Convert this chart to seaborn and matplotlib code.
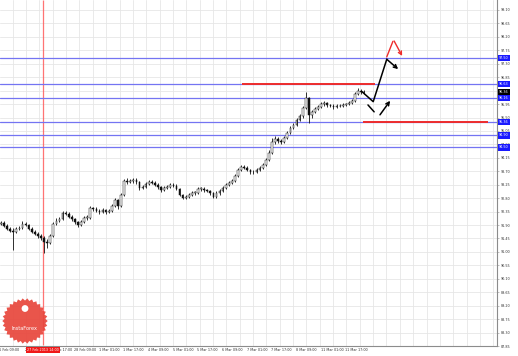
import numpy as np
import pandas as pd
import matplotlib
matplotlib.use("Agg")
import matplotlib.pyplot as plt
import matplotlib.transforms as mtransforms
from matplotlib.patches import Polygon, Circle
import seaborn as sns

# 2-hour candles, 26 Feb - 11 Mar (closes, highs, lows); open = previous close
closes = [91.98, 91.88, 91.78, 91.71, 91.68, 91.78, 91.81, 91.95, 91.91, 91.78,
          91.68, 91.61, 91.54, 91.48, 91.34, 91.31, 91.54, 91.95, 92.05, 92.11,
          92.31, 92.28, 92.18, 92.11, 92.01, 91.91, 92.01, 92.15, 92.15, 92.48,
          92.45, 92.38, 92.35, 92.41, 92.35, 92.38, 92.55, 92.75, 92.55, 92.91,
          93.38, 93.35, 93.38, 93.42, 93.35, 93.15, 93.18, 93.28, 93.35, 93.32,
          93.25, 93.18, 93.08, 93.15, 93.18, 93.25, 93.22, 93.12, 92.91, 92.81,
          92.85, 92.91, 92.98, 92.98, 93.12, 93.12, 93.08, 93.05, 92.98, 92.85,
          92.98, 93.05, 93.15, 93.25, 93.32, 93.38, 93.55, 93.75, 93.85, 93.82,
          93.75, 93.68, 93.68, 93.75, 93.82, 93.92, 94.09, 94.32, 94.69, 94.79,
          94.72, 94.69, 94.82, 94.99, 95.16, 95.26, 95.42, 95.56, 95.82, 96.16,
          95.59, 95.69, 95.79, 95.86, 95.96, 95.99, 95.92, 95.89, 95.86, 95.89,
          95.89, 95.92, 95.96, 95.99, 96.06, 96.29, 96.39, 96.36, 96.36]
highs = [92.05, 92.02, 91.92, 91.82, 91.80, 91.84, 91.88, 92.02, 92.00, 91.94,
         91.82, 91.74, 91.66, 91.60, 91.52, 91.42, 91.60, 92.00, 92.12, 92.18,
         92.38, 92.36, 92.32, 92.22, 92.15, 92.05, 92.06, 92.20, 92.22, 92.55,
         92.52, 92.50, 92.44, 92.46, 92.45, 92.44, 92.62, 92.82, 92.78, 92.98,
         93.45, 93.46, 93.44, 93.48, 93.46, 93.38, 93.24, 93.34, 93.40, 93.40,
         93.36, 93.30, 93.22, 93.20, 93.24, 93.30, 93.30, 93.26, 93.15, 92.95,
         92.90, 92.96, 93.04, 93.05, 93.18, 93.18, 93.16, 93.12, 93.08, 93.02,
         93.03, 93.10, 93.20, 93.30, 93.38, 93.44, 93.62, 93.82, 93.92, 93.90,
         93.86, 93.78, 93.74, 93.80, 93.88, 93.98, 94.15, 94.40, 94.80, 94.88,
         94.84, 94.78, 94.88, 95.05, 95.22, 95.32, 95.48, 95.62, 95.90, 96.35,
         96.20, 95.76, 95.85, 95.92, 96.02, 96.05, 96.03, 95.96, 95.94, 95.94,
         95.95, 95.97, 96.00, 96.04, 96.12, 96.35, 96.48, 96.44, 96.42]
lows = [91.90, 91.84, 91.72, 91.66, 91.08, 91.62, 91.74, 91.78, 91.86, 91.72,
        91.62, 91.55, 91.48, 91.40, 90.98, 91.12, 91.26, 91.50, 91.90, 92.00,
        92.06, 92.22, 92.12, 92.05, 91.95, 91.84, 91.86, 91.96, 92.08, 92.10,
        92.38, 92.32, 92.28, 92.30, 92.28, 92.30, 92.34, 92.50, 92.45, 92.50,
        92.86, 93.28, 93.30, 93.32, 93.28, 93.08, 93.10, 93.14, 93.24, 93.26,
        93.20, 93.12, 93.02, 93.04, 93.10, 93.14, 93.16, 93.06, 92.86, 92.76,
        92.76, 92.80, 92.86, 92.92, 92.94, 93.05, 93.02, 93.00, 92.92, 92.80,
        92.80, 92.92, 93.00, 93.10, 93.20, 93.28, 93.34, 93.50, 93.70, 93.76,
        93.70, 93.62, 93.62, 93.64, 93.70, 93.78, 93.88, 94.04, 94.28, 94.62,
        94.64, 94.60, 94.64, 94.78, 94.94, 95.10, 95.20, 95.38, 95.50, 95.78,
        95.32, 95.50, 95.64, 95.74, 95.82, 95.90, 95.86, 95.84, 95.80, 95.82,
        95.84, 95.85, 95.88, 95.92, 95.94, 96.02, 96.25, 96.30, 96.30]
first_open = 91.95

levels = [97.50, 96.63, 96.16, 95.36, 94.90, 94.50]
red_levels = [96.63, 95.36]
red_spans = [(78.3, 121.5), (117.6, 158.2)]

time_labels = ["26 Feb 09:00", "27 Feb 01:00", "27 Feb 17:00", "28 Feb 09:00",
               "1 Mar 01:00", "1 Mar 17:00", "4 Mar 09:00", "5 Mar 01:00",
               "5 Mar 17:00", "6 Mar 09:00", "7 Mar 01:00", "7 Mar 17:00",
               "8 Mar 09:00", "11 Mar 01:00", "11 Mar 17:00"]
price_ticks = [99.10, 98.65, 98.20, 97.75, 97.30, 96.85, 96.40, 95.95, 95.50,
               95.05, 94.60, 94.15, 93.70, 93.25, 92.80, 92.35, 91.90, 91.45,
               91.00, 90.55, 90.10, 89.65, 89.20, 88.75, 88.30, 87.85]
vline_bar = 13.66
vline_label = "27 Feb 2013 14:00"

# forecast sketch (bar index, price)
path_x = [117.2, 120.9, 125.3, 129.0]
path_y = [96.37, 96.03, 97.45, 97.12]

df = pd.DataFrame({"close": closes, "high": highs, "low": lows})
df["open"] = [first_open] + closes[:-1]
df["bar"] = np.arange(len(df))

sns.set_style("white")
plt.rcParams["font.family"] = ["DejaVu Sans"]

fig = plt.figure(figsize=(5.18, 3.56), dpi=100)
ax = fig.add_axes([0, 10 / 356, 497 / 518, 346 / 356])
ax.set_xlim(-0.3, 161.1)
ax.set_ylim(87.867, 99.434)

# grid
for gx in np.arange(3.83, 161, 4.335):
    ax.axvline(gx, color="#e6e6e6", lw=0.6, zorder=0)
for gy in price_ticks:
    ax.axhline(gy, color="#e6e6e6", lw=0.6, zorder=0)

# red time marker
ax.plot([vline_bar, vline_bar], [87.867, 99.434], color="#ff5c5c", lw=0.9,
        alpha=0.85, zorder=1, solid_capstyle="butt")

# candles
ax.vlines(df["bar"], df["low"], df["high"], color="#111111", lw=0.6, zorder=3)
up = df[df["close"] >= df["open"]]
dn = df[df["close"] < df["open"]]
ax.bar(up["bar"], (up["close"] - up["open"]).clip(lower=0.01), bottom=up["open"],
       width=0.55, color="white", edgecolor="#111111", lw=0.35, zorder=4)
ax.bar(dn["bar"], dn["open"] - dn["close"], bottom=dn["close"],
       width=0.55, color="#111111", edgecolor="#111111", lw=0.35, zorder=4)

# levels
for lv in levels:
    ax.axhline(lv, color="#7474f2", lw=0.9, zorder=2)
for lv, (x0, x1) in zip(red_levels, red_spans):
    ax.hlines(lv, x0, x1, color="#ee2c2c", lw=1.4, zorder=5)

# forecast sketch
sns.lineplot(x=path_x[:3], y=path_y[:3], sort=False, color="black", lw=1.1, ax=ax, zorder=6)
ax.annotate("", xy=(path_x[3], path_y[3]), xytext=(path_x[2], path_y[2]),
            arrowprops=dict(arrowstyle="->", color="black", lw=1.1,
                            mutation_scale=6, shrinkA=0, shrinkB=0), zorder=6)
ax.plot([119.2, 121.2], [95.92, 95.69], color="black", lw=1.1, zorder=6)
ax.annotate("", xy=(126.4, 96.06), xytext=(123.1, 95.59),
            arrowprops=dict(arrowstyle="->", color="black", lw=1.1,
                            mutation_scale=6, shrinkA=0, shrinkB=0), zorder=6)
ax.plot([125.3, 127.3], [97.53, 98.05], color="#ee2c2c", lw=1.0, zorder=6)
ax.annotate("", xy=(130.3, 97.56), xytext=(127.7, 98.06),
            arrowprops=dict(arrowstyle="->", color="#ee2c2c", lw=1.0,
                            mutation_scale=6, shrinkA=0, shrinkB=0), zorder=6)

# axes look
for s in ["top", "left"]:
    ax.spines[s].set_visible(False)
for s in ["right", "bottom"]:
    ax.spines[s].set_color("#8c8c8c")
    ax.spines[s].set_linewidth(0.8)
ax.set_yticks(price_ticks)
ax.yaxis.tick_right()
ax.set_yticklabels([f"{v:.2f}" for v in price_ticks], fontsize=2.4, color="#333333")
ax.tick_params(axis="y", length=1.5, width=0.4, pad=1.5, color="#8c8c8c")
tick_pos = [-0.4 + 8 * k for k in range(len(time_labels))]
ax.set_xticks([p for p in tick_pos if p > -0.3])
ax.set_xticklabels([])
ax.tick_params(axis="x", length=1.5, width=0.4, color="#8c8c8c")

xt = mtransforms.blended_transform_factory(ax.transData, ax.transAxes)
for pos, lab in zip(tick_pos, time_labels):
    ax.text(pos - 0.8 if pos < 0 else pos + 0.2, -0.006, lab, transform=xt,
            fontsize=2.4, color="#333333", ha="left", va="top", clip_on=False)
ax.text(vline_bar, -0.006, vline_label, transform=xt, fontsize=2.4, color="white",
        ha="center", va="top", clip_on=False, zorder=20,
        bbox=dict(boxstyle="square,pad=0.35", fc="#f01818", ec="none"))

yt = mtransforms.blended_transform_factory(ax.transAxes, ax.transData)
for lv in levels:
    ax.text(1.004, lv, f"{lv:.2f}", transform=yt, fontsize=2.4, color="white",
            ha="left", va="center", clip_on=False, zorder=20,
            bbox=dict(boxstyle="square,pad=0.35", fc="#1a1aff", ec="none"))
ax.text(1.004, closes[-1], f"{closes[-1]:.2f}", transform=yt, fontsize=2.4,
        color="white", ha="left", va="center", clip_on=False, zorder=20,
        bbox=dict(boxstyle="square,pad=0.35", fc="black", ec="none"))

# logo badge
lax = fig.add_axes([0, 10 / 356, 50 / 518, 50 / 356])
lax.set_xlim(-1.1, 1.1)
lax.set_ylim(-1.1, 1.1)
lax.axis("off")
th = np.linspace(0, 2 * np.pi, 61)
rr = np.where(np.arange(61) % 2 == 0, 1.0, 0.9)
lax.add_patch(Polygon(np.c_[rr * np.cos(th), rr * np.sin(th)], closed=True,
                      fc="#e8463c", ec="none", alpha=0.92))
lax.add_patch(Circle((0, 0.55), 0.15, fc="white", ec="none"))
lax.text(0, -0.35, "InstaForex", color="white", fontsize=3.6, ha="center", va="center")

fig.savefig("out.png", dpi=100)
